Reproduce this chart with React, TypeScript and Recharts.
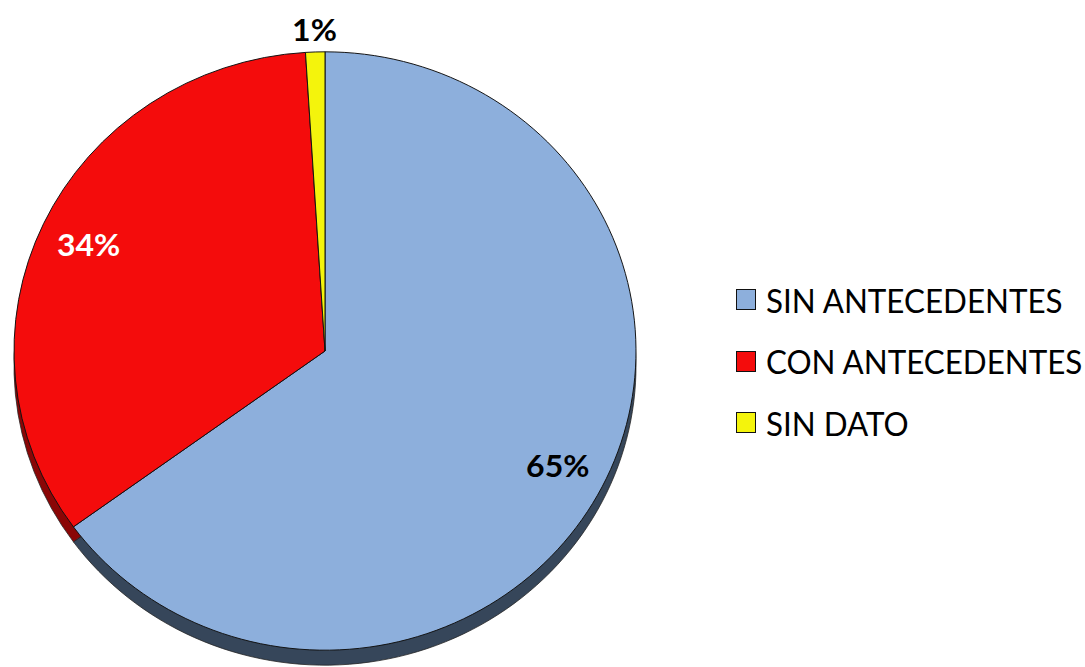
import { PieChart, Pie, Cell } from "recharts";

const categories = ["SIN ANTECEDENTES", "CON ANTECEDENTES", "SIN DATO"];
const shares = [65, 34, 1];
const faceColors = ["#8DAFDC", "#F40C0C", "#F4F40C"];
const edgeColors = ["#36465A", "#8A0606", "#8A8A06"];
const labelColors = ["#000000", "#FFFFFF", "#000000"];

const data = categories.map((name, i) => ({ name, value: shares[i] }));

// the original is a slightly tilted 3D pie: squash vertically, add a dark rim below
const TILT = 0.962;
const CX = 325;
const CY = 351 / TILT;
const R = 311;
const DEPTH = 15 / TILT;

const RAD = Math.PI / 180;

const renderLabel = (props: any) => {
  const { cx, cy, midAngle, outerRadius, index, value } = props;
  const r = value < 5 ? outerRadius + 24 : outerRadius * 0.84;
  const x = cx + r * Math.cos(-midAngle * RAD);
  const y = cy + r * Math.sin(-midAngle * RAD);
  return (
    <text
      x={x}
      y={y}
      fill={labelColors[index]}
      textAnchor="middle"
      dominantBaseline="central"
      fontFamily="Lato, 'Open Sans', sans-serif"
      fontWeight={700}
      fontSize={32}
    >
      {`${value}%`}
    </text>
  );
};

export default function App() {
  return (
    <div style={{ position: "absolute", left: 0, top: 0, width: 1085, height: 667, background: "#fff", overflow: "hidden" }}>
      <div style={{ position: "absolute", left: 0, top: 0, transform: `scaleY(${TILT})`, transformOrigin: "0 0" }}>
        <PieChart width={660} height={700} margin={{ top: 0, right: 0, bottom: 0, left: 0 }}>
          <Pie
            data={data}
            dataKey="value"
            cx={CX}
            cy={CY + DEPTH}
            outerRadius={R}
            startAngle={90}
            endAngle={-270}
            stroke="#222"
            strokeWidth={0.8}
            isAnimationActive={false}
            label={false}
            labelLine={false}
          >
            {data.map((d, i) => (
              <Cell key={`edge-${d.name}`} fill={edgeColors[i]} />
            ))}
          </Pie>
          <Pie
            data={data}
            dataKey="value"
            cx={CX}
            cy={CY}
            outerRadius={R}
            startAngle={90}
            endAngle={-270}
            stroke="#111"
            strokeWidth={1}
            isAnimationActive={false}
            label={renderLabel}
            labelLine={false}
          >
            {data.map((d, i) => (
              <Cell key={`face-${d.name}`} fill={faceColors[i]} />
            ))}
          </Pie>
        </PieChart>
      </div>
      <div style={{ position: "absolute", left: 736, top: 269, fontFamily: "Lato, 'Open Sans', sans-serif" }}>
        {categories.map((name, i) => (
          <div key={name} style={{ display: "flex", alignItems: "center", height: 61.5 }}>
            <div
              style={{
                width: 18,
                height: 19,
                background: faceColors[i],
                border: "1.5px solid #111",
                marginRight: 10,
                flexShrink: 0,
              }}
            />
            <span
              style={{
                display: "inline-block",
                fontSize: 33,
                color: "#000",
                whiteSpace: "nowrap",
                transform: "scaleX(0.95)",
                transformOrigin: "0 50%",
              }}
            >
              {name}
            </span>
          </div>
        ))}
      </div>
    </div>
  );
}
